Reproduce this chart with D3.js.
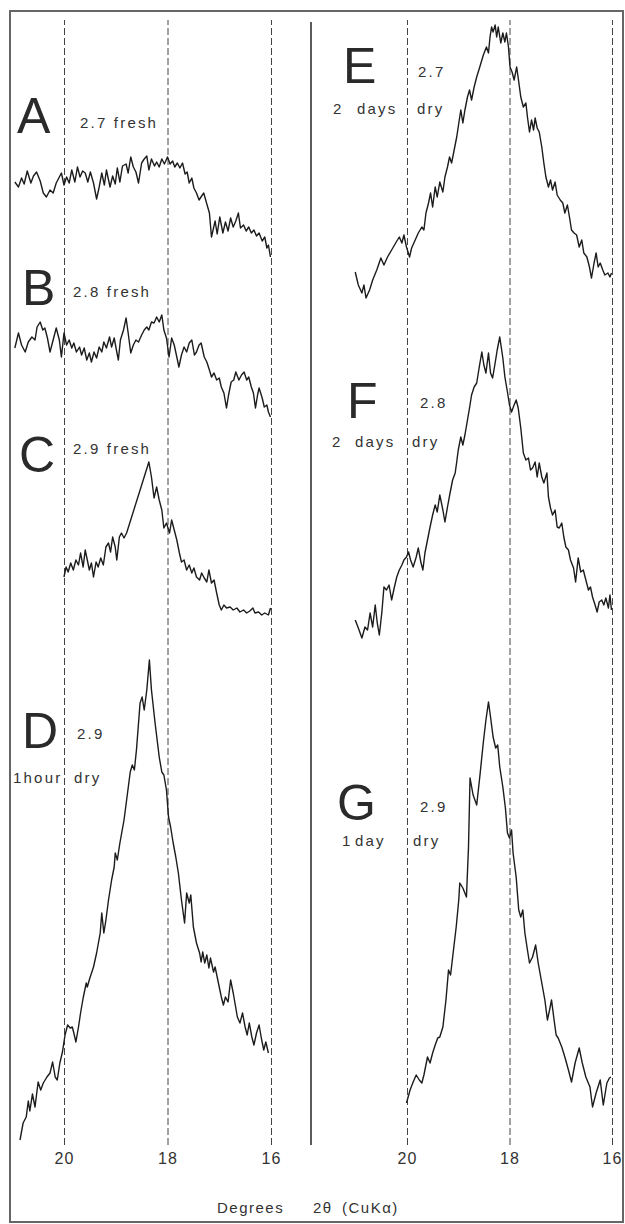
<!DOCTYPE html>
<html>
<head>
<meta charset="utf-8">
<script src="https://cdnjs.cloudflare.com/ajax/libs/d3/7.8.5/d3.min.js"></script>
<style>
  body { margin: 0; background: #fff; }
  svg { display: block; }
</style>
</head>
<body>
<div id="chart"></div>
<script>
// 2θ tick marks, same for both panels
const tickValues = [20, 18, 16]

// diffraction traces: [2θ in degrees, relative intensity]
const traceA = [[20.95,78],[20.88,73],[20.82,82],[20.77,76],[20.71,89],[20.64,77],[20.59,84],[20.53,88],[20.46,79],[20.40,67],
  [20.34,63],[20.27,70],[20.21,67],[20.15,77],[20.09,83],[20.05,87],[20.00,75],[19.95,83],[19.90,77],[19.85,90],
  [19.79,78],[19.74,93],[19.69,83],[19.64,89],[19.59,87],[19.54,78],[19.49,88],[19.43,77],[19.37,61],[19.32,73],
  [19.27,87],[19.22,75],[19.18,90],[19.11,73],[19.06,84],[19.01,76],[18.97,92],[18.92,78],[18.87,94],[18.80,96],
  [18.76,87],[18.71,103],[18.66,93],[18.61,88],[18.56,77],[18.50,97],[18.45,101],[18.40,104],[18.36,90],[18.31,101],
  [18.25,94],[18.21,98],[18.16,93],[18.11,101],[18.06,96],[18.00,103],[17.95,96],[17.90,99],[17.86,93],[17.81,97],
  [17.76,92],[17.71,97],[17.66,86],[17.62,88],[17.58,77],[17.53,82],[17.49,72],[17.44,67],[17.39,60],[17.34,64],
  [17.30,67],[17.24,56],[17.19,47],[17.15,23],[17.08,39],[17.04,26],[16.99,43],[16.93,27],[16.88,38],[16.83,29],
  [16.78,42],[16.73,33],[16.68,39],[16.63,47],[16.59,32],[16.53,35],[16.48,29],[16.43,33],[16.38,27],[16.33,30],
  [16.28,24],[16.23,27],[16.17,19],[16.12,23],[16.08,12],[16.05,15],[16.01,3]]

const traceB = [[20.95,72],[20.88,87],[20.82,75],[20.75,68],[20.69,78],[20.62,83],[20.56,80],[20.52,93],[20.46,98],[20.41,90],
  [20.37,92],[20.32,82],[20.27,68],[20.22,78],[20.15,92],[20.09,80],[20.05,63],[20.00,87],[19.95,75],[19.90,80],
  [19.85,72],[19.81,77],[19.76,68],[19.70,73],[19.66,65],[19.61,72],[19.56,60],[19.51,67],[19.47,58],[19.42,68],
  [19.37,62],[19.32,73],[19.27,68],[19.23,78],[19.18,72],[19.12,83],[19.08,73],[19.03,82],[18.98,68],[18.95,60],
  [18.91,80],[18.85,90],[18.80,102],[18.76,87],[18.71,67],[18.66,75],[18.61,80],[18.56,78],[18.50,85],[18.45,90],
  [18.40,93],[18.36,90],[18.31,98],[18.26,97],[18.21,103],[18.16,98],[18.11,105],[18.07,90],[18.02,82],[17.97,63],
  [17.92,82],[17.87,75],[17.82,63],[17.78,53],[17.73,65],[17.68,73],[17.63,68],[17.58,77],[17.53,80],[17.48,65],
  [17.44,68],[17.39,75],[17.35,77],[17.29,63],[17.24,58],[17.19,50],[17.15,43],[17.10,47],[17.05,40],[17.00,42],
  [16.96,33],[16.91,27],[16.86,12],[16.82,25],[16.77,38],[16.72,40],[16.68,48],[16.62,40],[16.57,45],[16.52,48],
  [16.47,40],[16.43,43],[16.38,33],[16.34,27],[16.30,12],[16.26,25],[16.23,32],[16.17,22],[16.13,13],[16.08,15],
  [16.05,8],[16.01,3]]

const traceC = [[20.00,43],[19.96,53],[19.92,48],[19.87,57],[19.82,50],[19.77,60],[19.72,55],[19.68,67],[19.63,53],[19.59,70],
  [19.55,60],[19.51,50],[19.47,57],[19.43,43],[19.38,58],[19.34,53],[19.29,62],[19.24,55],[19.19,73],[19.14,77],
  [19.10,68],[19.06,83],[19.01,73],[18.98,60],[18.93,83],[18.89,87],[18.84,82],[18.79,87],[18.36,158],[18.31,143],
  [18.26,122],[18.21,133],[18.16,120],[18.11,110],[18.07,92],[18.02,97],[17.96,87],[17.92,100],[17.87,90],[17.82,80],
  [17.77,67],[17.73,58],[17.68,60],[17.63,50],[17.58,55],[17.53,47],[17.49,52],[17.44,43],[17.38,40],[17.34,47],
  [17.29,42],[17.24,38],[17.20,50],[17.15,37],[17.10,40],[17.05,27],[17.00,15],[16.96,10],[16.91,15],[16.86,12],
  [16.79,13],[16.73,10],[16.66,12],[16.60,8],[16.53,10],[16.47,7],[16.41,9],[16.35,12],[16.31,7],[16.24,8],
  [16.18,5],[16.12,7],[16.05,5],[16.01,12]]

const traceD = [[20.85,5],[20.79,22],[20.73,28],[20.69,44],[20.66,34],[20.61,51],[20.56,38],[20.50,63],[20.45,55],[20.40,62],
  [20.33,68],[20.27,72],[20.22,83],[20.17,68],[20.13,65],[20.08,82],[20.03,93],[19.98,110],[19.93,120],[19.88,117],
  [19.84,118],[19.81,112],[19.77,103],[19.72,118],[19.68,132],[19.63,147],[19.57,162],[19.55,158],[19.50,167],[19.43,178],
  [19.37,192],[19.30,212],[19.27,232],[19.23,212],[19.19,225],[19.14,245],[19.08,265],[19.03,278],[19.01,292],[18.97,285],
  [18.92,302],[18.84,325],[18.79,345],[18.72,373],[18.68,380],[18.64,375],[18.60,395],[18.53,442],[18.49,448],[18.45,435],
  [18.40,455],[18.35,485],[18.31,455],[18.24,422],[18.16,388],[18.11,373],[18.07,370],[18.02,355],[17.98,328],[17.94,318],
  [17.89,302],[17.84,288],[17.79,272],[17.73,245],[17.67,222],[17.63,252],[17.58,242],[17.55,250],[17.50,218],[17.44,202],
  [17.38,192],[17.35,183],[17.32,193],[17.28,182],[17.24,190],[17.20,177],[17.17,187],[17.11,173],[17.08,178],[17.04,168],
  [17.00,158],[16.96,148],[16.92,140],[16.88,148],[16.83,143],[16.78,165],[16.73,152],[16.69,140],[16.65,128],[16.60,122],
  [16.55,132],[16.50,118],[16.46,110],[16.42,122],[16.37,108],[16.33,100],[16.28,112],[16.23,120],[16.18,105],[16.14,95],
  [16.10,103],[16.05,92]]

const traceE = [[21.01,28],[20.95,15],[20.88,7],[20.84,15],[20.80,2],[20.73,10],[20.67,20],[20.59,30],[20.51,42],[20.45,35],
  [20.38,43],[20.30,50],[20.21,58],[20.15,63],[20.10,57],[20.06,65],[20.01,53],[19.95,43],[19.91,52],[19.84,60],
  [19.78,67],[19.71,73],[19.67,70],[19.63,87],[19.58,97],[19.54,107],[19.50,93],[19.45,113],[19.41,103],[19.36,118],
  [19.30,108],[19.26,123],[19.21,133],[19.17,143],[19.13,137],[19.08,150],[19.03,163],[18.98,180],[18.95,190],[18.91,177],
  [18.87,190],[18.82,203],[18.78,210],[18.74,200],[18.69,213],[18.64,223],[18.58,233],[18.51,245],[18.45,253],[18.41,247],
  [18.38,263],[18.35,273],[18.32,268],[18.28,275],[18.25,263],[18.22,273],[18.17,257],[18.13,267],[18.09,258],[18.06,267],
  [18.02,253],[17.99,233],[17.95,228],[17.91,220],[17.86,233],[17.83,222],[17.78,203],[17.73,193],[17.68,197],[17.65,183],
  [17.61,168],[17.57,180],[17.53,170],[17.50,182],[17.46,172],[17.42,168],[17.37,153],[17.33,137],[17.29,123],[17.24,113],
  [17.20,120],[17.16,110],[17.11,118],[17.07,105],[17.01,100],[16.96,97],[16.92,87],[16.87,95],[16.83,83],[16.79,70],
  [16.74,67],[16.69,65],[16.64,53],[16.59,60],[16.55,47],[16.49,43],[16.44,33],[16.40,22],[16.35,37],[16.31,47],
  [16.27,33],[16.23,37],[16.18,30],[16.14,25],[16.08,27],[16.04,23],[16.01,27]]

const traceF = [[21.01,20],[20.95,12],[20.88,2],[20.82,13],[20.77,10],[20.72,27],[20.67,13],[20.62,35],[20.58,17],[20.54,5],
  [20.49,28],[20.45,53],[20.40,50],[20.35,55],[20.30,40],[20.25,52],[20.20,63],[20.15,70],[20.10,75],[20.06,80],
  [20.01,83],[19.97,88],[19.93,80],[19.88,73],[19.82,83],[19.78,92],[19.73,78],[19.69,70],[19.65,87],[19.60,100],
  [19.55,113],[19.50,125],[19.45,135],[19.41,128],[19.36,145],[19.30,130],[19.26,118],[19.21,133],[19.16,147],[19.11,160],
  [19.06,167],[19.03,178],[19.00,190],[18.95,203],[18.91,195],[18.87,205],[18.82,220],[18.78,232],[18.74,245],[18.69,253],
  [18.64,257],[18.59,273],[18.54,288],[18.50,275],[18.46,267],[18.41,287],[18.37,267],[18.33,262],[18.28,277],[18.24,290],
  [18.19,303],[18.13,282],[18.09,263],[18.04,248],[18.00,235],[17.96,228],[17.91,235],[17.87,240],[17.83,232],[17.78,212],
  [17.73,187],[17.68,180],[17.63,182],[17.59,170],[17.55,172],[17.50,178],[17.46,163],[17.42,177],[17.37,163],[17.33,157],
  [17.27,167],[17.24,143],[17.20,132],[17.16,125],[17.11,130],[17.07,113],[17.03,112],[16.98,117],[16.94,103],[16.90,93],
  [16.85,90],[16.81,80],[16.75,72],[16.71,58],[16.66,82],[16.61,68],[16.56,70],[16.51,60],[16.46,50],[16.42,53],
  [16.38,43],[16.33,35],[16.29,28],[16.25,38],[16.20,40],[16.16,35],[16.12,42],[16.07,32],[16.04,45],[16.01,30]]

const traceG = [[20.01,7],[19.94,20],[19.88,28],[19.82,35],[19.76,30],[19.71,27],[19.67,35],[19.60,53],[19.55,47],[19.50,57],
  [19.45,65],[19.40,72],[19.36,73],[19.30,83],[19.24,110],[19.19,140],[19.15,135],[19.10,157],[19.04,183],[18.99,210],
  [18.97,227],[18.91,222],[18.84,213],[18.80,263],[18.77,332],[18.71,315],[18.64,305],[18.58,333],[18.51,368],[18.46,390],
  [18.41,408],[18.37,393],[18.32,373],[18.27,362],[18.23,365],[18.19,343],[18.13,323],[18.08,302],[18.04,277],[18.00,272],
  [17.96,280],[17.93,257],[17.87,233],[17.82,200],[17.78,193],[17.74,200],[17.70,177],[17.65,160],[17.61,147],[17.55,153],
  [17.49,165],[17.44,147],[17.37,127],[17.31,110],[17.26,90],[17.21,102],[17.18,110],[17.13,90],[17.09,75],[17.05,72],
  [16.98,63],[16.92,53],[16.85,40],[16.79,28],[16.72,47],[16.64,62],[16.58,47],[16.51,33],[16.43,23],[16.38,3],
  [16.31,17],[16.23,30],[16.17,5],[16.10,27],[16.05,32],[16.02,33]]

const traceNames = ["A", "B", "C", "D", "E", "F", "G"]
const sampleLine1 = ["2.7 fresh", "2.8 fresh", "2.9 fresh", "2.9", "2.7", "2.8", "2.9"]
const sampleLine2 = [[], [], [], ["1hour", "dry"], ["2", "days", "dry"], ["2", "days", "dry"], ["1", "day", "dry"]]
const axisTitle = ["Degrees", "2θ", "(CuKα)"]

const w = 625
const h = 1224
const plotTop = 22
const plotBottom = 1145

// where each trace sits (layout only)
const place = [
  {panel: 0, base: 260,  letter: [17, 133],  line1: [80, 128], line2: [], y2: 0},
  {panel: 0, base: 420,  letter: [22, 305],  line1: [73, 297], line2: [], y2: 0},
  {panel: 0, base: 620,  letter: [19, 472],  line1: [73, 454], line2: [], y2: 0},
  {panel: 0, base: 1145, letter: [22, 748],  line1: [77, 739], line2: [13, 74], y2: 783},
  {panel: 1, base: 300,  letter: [343, 83],  line1: [418, 77], line2: [333, 357, 417], y2: 114},
  {panel: 1, base: 640,  letter: [347, 418], line1: [420, 408], line2: [332, 355, 412], y2: 447},
  {panel: 1, base: 1110, letter: [337, 820], line1: [420, 812], line2: [342, 355, 413], y2: 846}
]

const traces = [traceA, traceB, traceC, traceD, traceE, traceF, traceG]

function drawD3(){
  var svg = d3.select("#chart")
              .append('svg')
              .attr('width', w)
              .attr('height', h)

  svg.append('rect')
     .attr('width', w)
     .attr('height', h)
     .attr('fill', 'white')

  // outer frame
  svg.append('rect')
     .attr('x', 10)
     .attr('y', 11)
     .attr('width', 613)
     .attr('height', 1211)
     .attr('fill', 'none')
     .attr('stroke', '#666')
     .attr('stroke-width', 2)

  var xScales = [
    d3.scaleLinear().domain([20, 16]).range([64, 271]),
    d3.scaleLinear().domain([20, 16]).range([407, 612])
  ]

  // dashed 2θ lines + tick labels
  xScales.forEach(function(x){
    var ax = svg.append('g')
                .attr('transform', 'translate(0,' + plotBottom + ')')
                .call(d3.axisBottom(x)
                        .tickValues(tickValues)
                        .tickSize(-(plotBottom - plotTop + 2))
                        .tickPadding(8)
                        .tickFormat(d3.format('d')))
    ax.select('.domain').remove()
    ax.selectAll('.tick line')
      .attr('stroke', '#444')
      .attr('stroke-width', 1)
      .attr('stroke-dasharray', '7,3')
    ax.selectAll('.tick text')
      .attr('fill', '#333')
      .attr('font-size', 16)
      .attr('font-family', 'Liberation Sans, Arial, sans-serif')
      .attr('letter-spacing', 1)
  })

  // divider between panels
  svg.append('line')
     .attr('x1', 311)
     .attr('x2', 311)
     .attr('y1', plotTop)
     .attr('y2', plotBottom)
     .attr('stroke', '#333')
     .attr('stroke-width', 1.6)

  traces.forEach(function(data, i){
    var p = place[i]
    var x = xScales[p.panel]
    var y = d3.scaleLinear().domain([0, 500]).range([p.base, p.base - 500])
    var line = d3.line()
                 .x(function(d){ return x(d[0]) })
                 .y(function(d){ return y(d[1]) })

    svg.append('path')
       .datum(data)
       .attr('d', line)
       .attr('fill', 'none')
       .attr('stroke', '#1c1c1c')
       .attr('stroke-width', 1.4)
       .attr('stroke-linejoin', 'round')

    svg.append('text')
       .attr('x', p.letter[0])
       .attr('y', p.letter[1])
       .attr('font-size', 50)
       .attr('font-family', 'Liberation Sans, Arial, sans-serif')
       .attr('fill', '#2a2a2a')
       .text(traceNames[i])

    svg.append('text')
       .attr('x', p.line1[0])
       .attr('y', p.line1[1])
       .attr('font-size', 15)
       .attr('letter-spacing', 2.2)
       .attr('font-family', 'Liberation Sans, Arial, sans-serif')
       .attr('fill', '#333')
       .text(sampleLine1[i])

    sampleLine2[i].forEach(function(word, j){
      svg.append('text')
         .attr('x', p.line2[j])
         .attr('y', p.y2)
         .attr('font-size', 15)
         .attr('letter-spacing', 2.2)
         .attr('font-family', 'Liberation Sans, Arial, sans-serif')
         .attr('fill', '#333')
         .text(word)
    })
  })

  // axis title
  var titleX = [217, 313, 342]
  axisTitle.forEach(function(t, i){
    svg.append('text')
       .attr('x', titleX[i])
       .attr('y', 1213)
       .attr('font-size', 15)
       .attr('letter-spacing', 1.5)
       .attr('font-family', 'Liberation Sans, Arial, sans-serif')
       .attr('fill', '#333')
       .text(t)
  })
}

drawD3()
</script>
</body>
</html>
